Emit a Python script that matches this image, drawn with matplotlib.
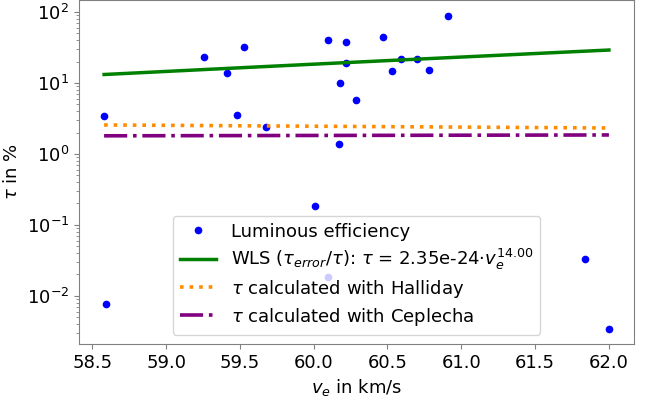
import numpy as np
import matplotlib
matplotlib.use("Agg")
import matplotlib.pyplot as plt

# measured velocities (km/s) and luminous efficiency (%)
velocity = [58.58, 58.59, 59.26, 59.41, 59.48, 59.53, 59.68, 60.01, 60.10, 60.10,
            60.17, 60.18, 60.22, 60.22, 60.29, 60.47, 60.53, 60.59, 60.70, 60.78,
            60.91, 61.84, 62.00]
tau = [3.43, 0.0077, 23.2, 13.8, 3.54, 32.0, 2.4, 0.185, 40.0, 0.0185,
       1.38, 10.0, 37.8, 19.0, 5.75, 44.5, 14.7, 21.8, 21.8, 15.2,
       88.0, 0.0332, 0.00343]

# fit parameters from the WLS fit
fit_a = 2.35e-24
fit_b = 14.00

# model curves at the ends of the velocity range
model_v = [58.58, 62.00]
halliday = [2.56, 2.32]
ceplecha = [1.80, 1.85]

plt.rcParams['font.size'] = 13

fig = plt.figure(figsize=(6.6, 4), dpi=100)
ax = fig.add_axes([0.1197, 0.14, 0.8409, 0.86])

v_sorted = np.sort(velocity)
ax.plot(velocity, tau, 'o', color='blue', ms=4.5, label="Luminous efficiency")
ax.plot(v_sorted, fit_a * v_sorted**fit_b, color='green', lw=2.5,
        label=r"WLS ($\tau_{error}/\tau$): $\tau$ = %.2e$\cdot v_e^{%.2f}$" % (fit_a, fit_b))
ax.plot(model_v, halliday, ':', color='darkorange', lw=2.6,
        label=r"$\tau$ calculated with Halliday")
ax.plot(model_v, ceplecha, '-.', color='purple', lw=2.6,
        label=r"$\tau$ calculated with Ceplecha")

ax.set_yscale('log')
ax.set_xlim(58.41, 62.17)
ax.set_ylim(10**-2.68, 10**2.17)
ax.set_xticks([58.5, 59.0, 59.5, 60.0, 60.5, 61.0, 61.5, 62.0])
ax.set_xlabel(r"$v_e$ in km/s")
ax.set_ylabel(r"$\tau$ in %")

for s in ax.spines.values():
    s.set_color('gray')
ax.tick_params(which='both', color='gray')

ax.legend(loc='lower center', labelspacing=0.33)

plt.savefig("out.png", dpi=100)
